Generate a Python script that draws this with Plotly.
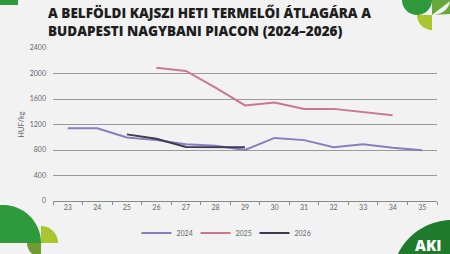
import math
import plotly.graph_objects as go

weeks = ["23", "24", "25", "26", "27", "28", "29", "30", "31", "32", "33", "34", "35"]

weeks_2024 = ["23", "24", "25", "26", "27", "28", "29", "30", "31", "32", "33", "34", "35"]
price_2024 = [1140, 1140, 995, 955, 890, 865, 800, 990, 955, 845, 890, 835, 795]

weeks_2025 = ["26", "27", "28", "29", "30", "31", "32", "33", "34"]
price_2025 = [2090, 2040, 1780, 1500, 1545, 1445, 1445, 1395, 1345]

weeks_2026 = ["25", "26", "27", "28", "29"]
price_2026 = [1045, 975, 848, 848, 842]

y_ticks = [0, 400, 800, 1200, 1600, 2000, 2400]

W, H = 450, 254
L, R, T, B = 53, 13, 48, 53
PW, PH = W - L - R, H - T - B


def px(x):
    return (x - L) / PW


def py(y):
    return (H - B - y) / PH


def poly(points):
    s = "M" + " L".join(f"{px(x):.5f},{py(y):.5f}" for x, y in points) + " Z"
    return s


def arc_pts(cx, cy, r, a0, a1, n=40):
    return [(cx + r * math.cos(math.radians(a0 + (a1 - a0) * i / n)),
             cy - r * math.sin(math.radians(a0 + (a1 - a0) * i / n))) for i in range(n + 1)]


fig = go.Figure()
fig.add_trace(go.Scatter(x=weeks_2024, y=price_2024, mode="lines", name="2024",
                         line=dict(color="#8b7cbf", width=2)))
fig.add_trace(go.Scatter(x=weeks_2025, y=price_2025, mode="lines", name="2025",
                         line=dict(color="#c9788f", width=2)))
fig.add_trace(go.Scatter(x=weeks_2026, y=price_2026, mode="lines", name="2026",
                         line=dict(color="#3e3a52", width=2)))

shapes = []
green = "#2f9a3c"
lime = "#a9c52f"
olive = "#6f9a34"
dark = "#1f7a2c"
# top-left bar
shapes.append(dict(type="path", path=poly([(0, 0), (18, 0), (18, 5), (0, 5)]),
                   xref="paper", yref="paper", fillcolor=green, line_width=0, layer="below"))
# top-right
shapes.append(dict(type="path", path=poly(arc_pts(417, 0, 15, 180, 360)),
                   xref="paper", yref="paper", fillcolor=green, line_width=0, layer="below"))
shapes.append(dict(type="path", path=poly([(432, 0), (450, 0), (450, 14)] + [(432 + 18 * math.cos(math.radians(a)), 0 + 15 * math.sin(math.radians(a))) for a in range(0, 91, 5)][::-1][:-1] + [(432, 15)]),
                   xref="paper", yref="paper", fillcolor="#68a83a", line_width=0, layer="below"))
shapes.append(dict(type="path", path=poly([(432, 15)] + arc_pts(432, 15, 15, 180, 270)),
                   xref="paper", yref="paper", fillcolor=lime, line_width=0, layer="below"))
# bottom-left
shapes.append(dict(type="path", path=poly(arc_pts(3, 243, 38, 0, 180)),
                   xref="paper", yref="paper", fillcolor=green, line_width=0, layer="below"))
shapes.append(dict(type="path", path=poly([(41, 243)] + arc_pts(41, 243, 17, 0, 90)),
                   xref="paper", yref="paper", fillcolor=lime, line_width=0, layer="below"))
shapes.append(dict(type="path", path=poly([(41, 243)] + arc_pts(41, 243, 14, 180, 270)),
                   xref="paper", yref="paper", fillcolor=olive, line_width=0, layer="below"))
# bottom-right logo circle
shapes.append(dict(type="path", path=poly(arc_pts(452, 280, 60, 90, 205) + [(392, 254), (450, 254), (450, 221)]),
                   xref="paper", yref="paper", fillcolor=dark, line_width=0, layer="below"))

fig.update_layout(
    width=W, height=H,
    margin=dict(l=L, r=R, t=T, b=B, autoexpand=False),
    paper_bgcolor="#f2f2f2",
    plot_bgcolor="#f2f2f2",
    font=dict(family="Lato", color="#666666", size=7),
    showlegend=True,
    legend=dict(orientation="h", x=0.5, xanchor="center", xref="container",
                y=1 - 233 / 254, yanchor="middle", yref="container",
                font=dict(size=7, color="#666666"), bgcolor="rgba(0,0,0,0)",
                itemwidth=30, tracegroupgap=0, entrywidth=14, entrywidthmode="pixels"),
    xaxis=dict(type="category", categoryorder="array", categoryarray=weeks,
               range=[-0.5, len(weeks) - 0.5],
               showgrid=False, showline=True, linecolor="#8a8a8a", linewidth=1,
               ticks="outside", tickson="boundaries", ticklen=3, tickcolor="#8a8a8a",
               tickfont=dict(size=7, color="#666666"), zeroline=False, fixedrange=True),
    yaxis=dict(range=[0, 2400], tickvals=y_ticks, ticktext=[str(v) for v in y_ticks],
               showgrid=True, gridcolor="#9a9a9a", gridwidth=1, zeroline=False,
               showline=False, ticks="", ticklabelstandoff=6,
               tickfont=dict(size=7, color="#666666"),
               title=dict(text="HUF/kg", font=dict(size=7.5, color="#666666"), standoff=4)),
    shapes=shapes,
    annotations=[
        dict(text="A BELFÖLDI KAJSZI HETI TERMELŐI ÁTLAGÁRA A<br>BUDAPESTI NAGYBANI PIACON (2024–2026)",
             xref="paper", yref="paper", x=px(46), y=py(2), xanchor="left", yanchor="top",
             align="left", showarrow=False,
             font=dict(family="Open Sans", size=13.5, color="#1e1e1e", weight=800)),
        dict(text="AKI", xref="paper", yref="paper", x=px(428), y=py(245), xanchor="center",
             yanchor="middle", showarrow=False,
             font=dict(family="Open Sans", size=15, color="#ffffff", weight=800)),
    ],
)

fig.write_html("out.html")
